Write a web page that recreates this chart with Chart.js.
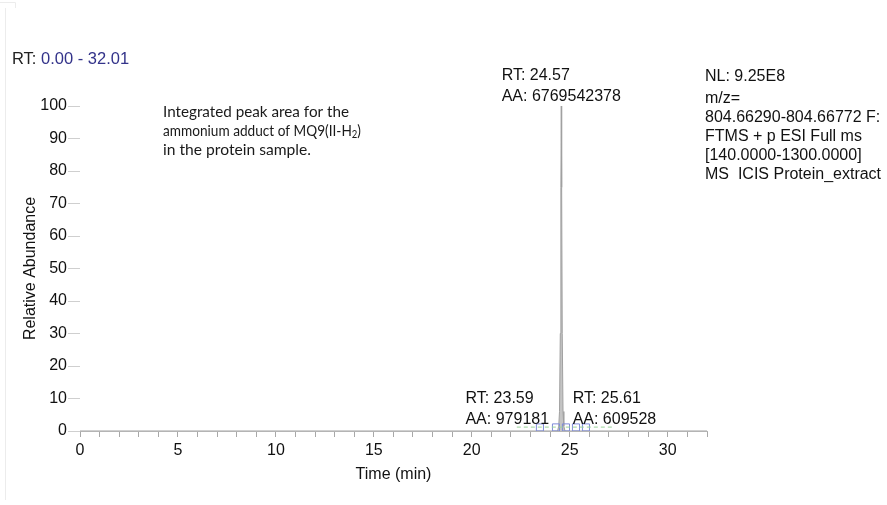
<!DOCTYPE html>
<html>
<head>
<meta charset="utf-8">
<script src="https://cdn.jsdelivr.net/npm/chart.js@4.4.1/dist/chart.umd.min.js"></script>
<style>
  html, body { margin: 0; padding: 0; background: #fff; }
  #wrap { width: 887px; height: 505px; position: relative; }
</style>
</head>
<body>
<div id="wrap"><canvas id="chrom" width="887" height="505"></canvas></div>
<script>
// --- chromatogram trace (time in min, relative abundance %) ---
const traceTime = [0, 22.0, 24.38, 24.44, 24.48, 24.52, 24.55, 24.57, 24.59, 24.62, 24.66, 24.70, 24.76, 27.0, 32.01];
const traceAbund = [0, 0, 0, 1.5, 6, 30, 75, 100, 75, 30, 6, 1.5, 0, 0, 0];

// integration markers near the baseline
const boxTime = [23.48, 24.3, 24.81, 25.32, 25.83];
const boxAbund = [1.1, 1.1, 1.1, 1.1, 1.1];
const baseTime = [22.3, 27.3];
const baseAbund = [1.2, 1.2];

// labelled peaks
const peakRT = [23.59, 24.57, 25.61];
const peakAA = ["979181", "6769542378", "609528"];

const xTickStep = 1;
const yTicks = [0, 10, 20, 30, 40, 50, 60, 70, 80, 90, 100];

const headerRange = "0.00 - 32.01";
const infoLines = ["NL: 9.25E8", "m/z=", "804.66290-804.66772 F:", "FTMS + p ESI Full ms", "[140.0000-1300.0000]", "MS  ICIS Protein_extract"];
const noteLines = ["Integrated peak area for the", "ammonium adduct of MQ9(II-H", "in the protein sample."];
const noteWidths = [186, 198, 148];

const ARIAL = "'Liberation Sans', Arial, sans-serif";
const CALIBRI = "Lato, 'Open Sans', sans-serif";

const textPlugin = {
  id: "chromText",
  afterDraw(chart) {
    const ctx = chart.ctx;
    const xs = chart.scales.x, ys = chart.scales.y;
    ctx.save();

    // faint frame marks of the original export
    ctx.strokeStyle = "#ececec";
    ctx.lineWidth = 1;
    ctx.beginPath();
    ctx.moveTo(0, 2.5); ctx.lineTo(15.5, 2.5); ctx.lineTo(15.5, 8);
    ctx.moveTo(5.5, 8); ctx.lineTo(5.5, 500);
    ctx.stroke();

    // header
    ctx.font = "16.5px " + ARIAL;
    ctx.textBaseline = "middle";
    ctx.textAlign = "left";
    ctx.fillStyle = "#222";
    ctx.fillText("RT:", 12, 59);
    ctx.fillStyle = "#33338a";
    ctx.fillText(headerRange, 12 + ctx.measureText("RT: ").width, 59);

    // info block on the right
    ctx.font = "16px " + ARIAL;
    ctx.fillStyle = "#111";
    infoLines.forEach((t, i) => {
      const y = i === 0 ? 77 : 99 + (i - 1) * 19;
      ctx.fillText(t, 705, y);
    });

    // peak labels
    const apexX = xs.getPixelForValue(peakRT[1]);
    const topY = ys.getPixelForValue(100);
    const aaMain = "AA: " + peakAA[1];
    const wMain = ctx.measureText(aaMain).width;
    ctx.fillText("RT: " + peakRT[1].toFixed(2), apexX - wMain / 2, topY - 30);
    ctx.fillText(aaMain, apexX - wMain / 2, topY - 9);

    const baseY = ys.getPixelForValue(0);
    const lx = xs.getPixelForValue(peakRT[0]) + 7;
    const w0 = ctx.measureText("AA: " + peakAA[0]).width;
    ctx.fillText("RT: " + peakRT[0].toFixed(2), lx - w0, baseY - 32);
    ctx.fillText("AA: " + peakAA[0], lx - w0, baseY - 11);
    const rx = xs.getPixelForValue(peakRT[2]) - 9;
    ctx.fillText("RT: " + peakRT[2].toFixed(2), rx, baseY - 32);
    ctx.fillText("AA: " + peakAA[2], rx, baseY - 11);

    // annotation note (Calibri-like, fitted to the original widths)
    ctx.fillStyle = "#1a1a1a";
    const noteY = [112, 131, 150];
    noteLines.forEach((t, i) => {
      ctx.save();
      ctx.font = "15px " + CALIBRI;
      const w = ctx.measureText(t).width;
      let sub = 0, close = 0;
      if (i === 1) {
        ctx.font = "10.5px " + CALIBRI;
        sub = ctx.measureText("2").width;
        ctx.font = "15px " + CALIBRI;
        close = ctx.measureText(")").width;
      }
      const total = w + sub + close;
      ctx.translate(163, noteY[i]);
      ctx.scale(noteWidths[i] / total, 1);
      ctx.fillText(t, 0, 0);
      if (i === 1) {
        ctx.font = "10.5px " + CALIBRI;
        ctx.fillText("2", w, 4);
        ctx.font = "15px " + CALIBRI;
        ctx.fillText(")", w + sub, 0);
      }
      ctx.restore();
    });

    ctx.restore();
  }
};

new Chart(document.getElementById("chrom"), {
  type: "line",
  data: {
    datasets: [
      {
        label: "baseline",
        data: baseTime.map((t, i) => ({ x: t, y: baseAbund[i] })),
        borderColor: "#9ad49a",
        borderWidth: 1,
        borderDash: [4, 3],
        pointRadius: 0,
        fill: false
      },
      {
        label: "boxes",
        type: "scatter",
        data: boxTime.map((t, i) => ({ x: t, y: boxAbund[i] })),
        pointStyle: "rect",
        pointRadius: 5,
        borderColor: "#7f8bd8",
        backgroundColor: "rgba(0,0,0,0)",
        borderWidth: 1
      },
      {
        label: "trace",
        data: traceTime.map((t, i) => ({ x: t, y: traceAbund[i] })),
        borderColor: "#a0a0a0",
        backgroundColor: "#c4c4c4",
        borderWidth: 1,
        pointRadius: 0,
        tension: 0,
        fill: "origin"
      }
    ]
  },
  options: {
    responsive: false,
    animation: false,
    events: [],
    layout: { padding: { left: 0, right: 180, top: 106, bottom: 0 } },
    plugins: { legend: { display: false }, tooltip: { enabled: false } },
    scales: {
      x: {
        type: "linear",
        min: 0,
        max: 32.01,
        afterFit: s => { s.height = 74; },
        ticks: {
          stepSize: xTickStep,
          autoSkip: false,
          maxRotation: 0,
          padding: 4,
          color: "#111",
          font: { family: ARIAL, size: 16 },
          callback: v => (v % 5 === 0 ? String(v) : "")
        },
        grid: { drawOnChartArea: false, tickLength: 6, color: "#a8a8a8" },
        border: { color: "#b4b4b4" },
        title: {
          display: true,
          text: "Time (min)",
          color: "#111",
          font: { family: ARIAL, size: 16 },
          padding: { top: 0, bottom: 21 }
        }
      },
      y: {
        min: 0,
        max: 100,
        afterFit: s => { s.width = 80; },
        afterBuildTicks: s => { s.ticks = yTicks.map(v => ({ value: v })); },
        ticks: {
          padding: 1,
          color: "#111",
          font: { family: ARIAL, size: 16 }
        },
        grid: { drawOnChartArea: false, tickLength: 12, color: "#cfcfcf" },
        border: { display: false },
        title: {
          display: true,
          text: "Relative Abundance",
          color: "#111",
          font: { family: ARIAL, size: 16 },
          padding: { top: 21, bottom: 0 }
        }
      }
    }
  },
  plugins: [textPlugin]
});
</script>
</body>
</html>
